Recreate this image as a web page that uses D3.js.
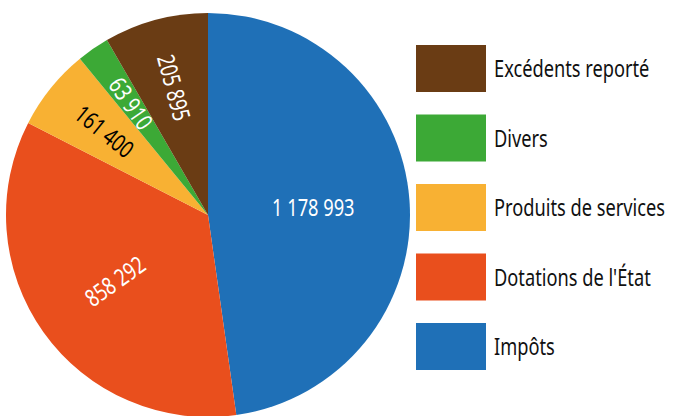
<!DOCTYPE html>
<html>
<head>
<meta charset="utf-8">
<script src="https://cdn.jsdelivr.net/npm/d3@7"></script>
<style>
    html, body { margin: 0; padding: 0; background: #fff; }
    svg { display: block; }
    text { font-family: "Noto Sans", "Open Sans", sans-serif; }
</style>
</head>
<body>
<svg id="chart" width="673" height="416"></svg>
<script>
// ===== Recettes : pie with radial labels =====

// slices in drawing order, clockwise from 12 o'clock
const categories = ['Impôts', "Dotations de l'État", 'Produits de services', 'Divers', 'Excédents reporté'];
const values = [1178993, 858292, 161400, 63910, 205895];
const colors = ['#1f70b7', '#e94f1d', '#f8b133', '#3ca936', '#6a3c14'];
const labelColors = ['#fff', '#fff', '#000', '#fff', '#fff'];

// legend reads top to bottom in reverse order
const legendOrder = ['Excédents reporté', 'Divers', 'Produits de services', "Dotations de l'État", 'Impôts'];

const svg = d3.select('#chart');
const cx = 208, cy = 215, radius = 202;
const squeeze = 0.76; // the original uses a condensed face

const slices = categories.map((name, i) => ({
    name: name,
    value: values[i],
    color: colors[i],
    labelColor: labelColors[i]
}));

const total = d3.sum(values);
const pie = d3.pie().sort(null).value(d => d.value);
const arc = d3.arc().innerRadius(0).outerRadius(radius);
const arcs = pie(slices);

const fmt = v => d3.format(',')(v).replace(/,/g, ' ');

const g = svg.append('g').attr('transform', `translate(${cx},${cy})`);

g.selectAll('path.slice')
    .data(arcs)
    .join('path')
    .attr('class', 'slice')
    .attr('d', arc)
    .attr('fill', d => d.data.color);

// labels: big slices sit closer to the centre, small ones further out
g.selectAll('text.value')
    .data(arcs)
    .join('text')
    .attr('class', 'value')
    .attr('text-anchor', 'middle')
    .attr('dy', '0.36em')
    .attr('font-size', 24)
    .attr('fill', d => d.data.labelColor)
    .attr('transform', d => {
        const frac = d.data.value / total;
        const r = radius * (0.68 - 0.33 * frac);
        const mid = (d.startAngle + d.endAngle) / 2;
        const x = Math.sin(mid) * r;
        const y = -Math.cos(mid) * r;
        const deg = mid * 180 / Math.PI;
        let rot = deg > 180 ? deg - 270 : deg - 90;
        if (frac > 0.45) rot = 0;
        return `translate(${x},${y}) rotate(${rot}) scale(${squeeze},1)`;
    })
    .text(d => fmt(d.data.value));

// legend
const legendX = 416, legendY = 45, boxW = 70, boxH = 47, pitch = 69.5;
const colorOf = d3.scaleOrdinal().domain(categories).range(colors);

const legend = svg.append('g')
    .selectAll('g')
    .data(legendOrder)
    .join('g')
    .attr('transform', (d, i) => `translate(${legendX},${legendY + i * pitch})`);

legend.append('rect')
    .attr('width', boxW)
    .attr('height', boxH)
    .attr('fill', d => colorOf(d));

legend.append('text')
    .attr('transform', `translate(${boxW + 8},${boxH / 2}) scale(${squeeze},1)`)
    .attr('dy', '0.36em')
    .attr('font-size', 24)
    .attr('fill', '#111')
    .text(d => d);
</script>
</body>
</html>
